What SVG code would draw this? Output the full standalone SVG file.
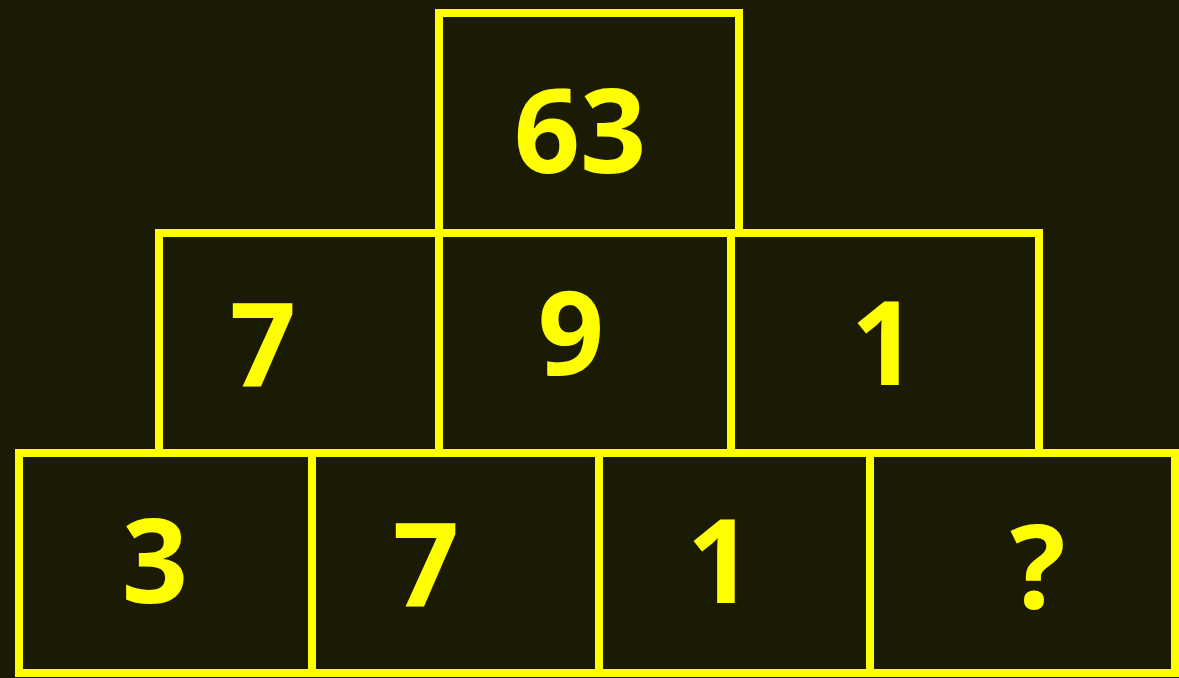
<svg xmlns="http://www.w3.org/2000/svg" width="1179" height="678" viewBox="0 0 1179 678">
<style>
.box{fill:none;stroke:#ffff00;stroke-width:8}
.num{fill:#ffff00;font-family:"Open Sans","Lato","Liberation Sans",sans-serif;font-weight:bold;font-size:116px;text-anchor:middle}
</style>
<rect x="0" y="0" width="1179" height="678" fill="#1b1a04"/>
<g id="top"><rect class="box" x="439" y="13" width="300" height="220"/><text class="num" x="580" y="173">63</text></g>
<g id="r2a"><rect class="box" x="159" y="233" width="280" height="220"/><text class="num" x="263" y="387">7</text></g>
<g id="r2b"><rect class="box" x="439" y="233" width="292" height="220"/><text class="num" x="571" y="375">9</text></g>
<g id="r2c"><rect class="box" x="731" y="233" width="308" height="220"/><text class="num" x="884" y="385">1</text></g>
<g id="r3a"><rect class="box" x="19" y="453" width="293" height="220"/><text class="num" x="155" y="603">3</text></g>
<g id="r3b"><rect class="box" x="312" y="453" width="287" height="220"/><text class="num" x="426" y="607">7</text></g>
<g id="r3c"><rect class="box" x="599" y="453" width="271" height="220"/><text class="num" x="720" y="603">1</text></g>
<g id="r3d"><rect class="box" x="870" y="453" width="305" height="220"/><text class="num" x="1038" y="608">?</text></g>
<g id="connectors"></g>
</svg>
